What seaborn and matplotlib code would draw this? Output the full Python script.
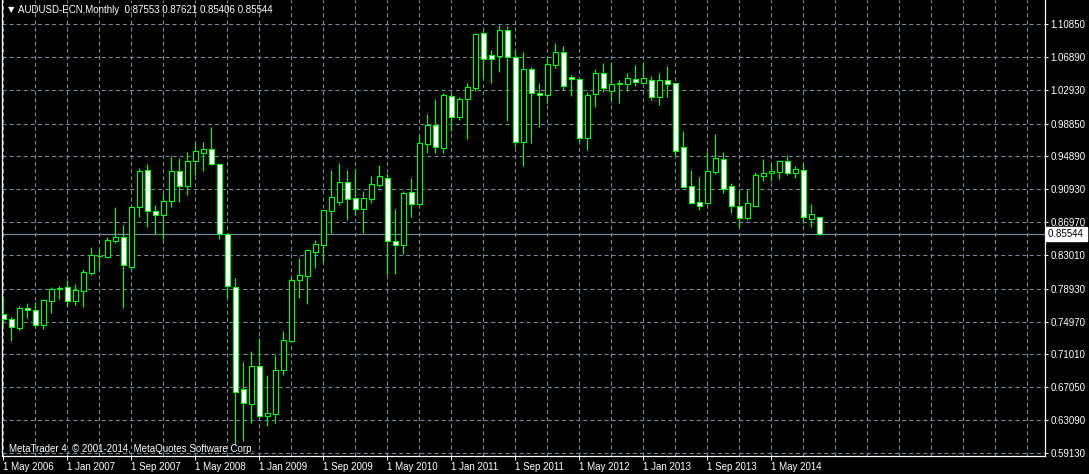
import numpy as np
import pandas as pd
import matplotlib.pyplot as plt
import matplotlib.ticker as mticker
import seaborn as sns

# monthly AUDUSD bars, May 2006 .. Nov 2014
opens = [0.75887, 0.75248, 0.74236, 0.76611, 0.76333, 0.74597, 0.77491, 0.78877, 0.79106, 0.77491,
         0.78696, 0.80866, 0.82844, 0.82795, 0.84724, 0.85134, 0.81590, 0.88751, 0.93212, 0.88341,
         0.87883, 0.89474, 0.93091, 0.91283, 0.94297, 0.95334, 0.95743, 0.93935, 0.85568, 0.79178,
         0.66809, 0.65073, 0.69582, 0.63554, 0.63867, 0.69100, 0.72668, 0.80022, 0.80505, 0.83398,
         0.84242, 0.88341, 0.89426, 0.91765, 0.89836, 0.88582, 0.89788, 0.91476, 0.92247, 0.84652,
         0.84170, 0.90559, 0.89185, 0.96419, 0.98637, 0.95936, 1.02133, 0.99674, 1.01771, 1.03170,
         1.09728, 1.07076, 1.07028, 1.10090, 1.06835, 0.96660, 1.05388, 1.02495, 1.02254, 1.05943,
         1.07438, 1.04424, 1.04183, 0.97142, 1.02447, 1.04906, 1.02808, 1.03616, 1.03652, 1.04183,
         1.03773, 1.04062, 1.02085, 1.04062, 1.03700, 0.95985, 0.91319, 0.89354, 0.89269, 0.93007,
         0.94574, 0.91319, 0.88908, 0.87425, 0.88944, 0.92561, 0.92850, 0.93043, 0.94297, 0.92922,
         0.93212, 0.87377, 0.87553]
highs = [0.77973, 0.75562, 0.76852, 0.77250, 0.77334, 0.77732, 0.79178, 0.79263, 0.79986, 0.79504,
         0.81312, 0.83929, 0.83760, 0.85170, 0.88787, 0.86617, 0.88908, 0.93489, 0.93935, 0.88992,
         0.90330, 0.94936, 0.94658, 0.95418, 0.96539, 0.96624, 0.98396, 0.94056, 0.85653, 0.80191,
         0.70100, 0.71426, 0.72958, 0.68533, 0.70944, 0.73838, 0.80384, 0.82639, 0.83687, 0.84809,
         0.88425, 0.93248, 0.94092, 0.93248, 0.93368, 0.90716, 0.92524, 0.93851, 0.92850, 0.88546,
         0.90716, 0.92283, 0.97467, 0.99999, 1.01808, 1.02531, 1.02531, 1.02049, 1.03700, 1.09728,
         1.10126, 1.07679, 1.10693, 1.10608, 1.07679, 1.07438, 1.05666, 1.03700, 1.06907, 1.08559,
         1.08161, 1.04665, 1.04250, 1.02688, 1.05424, 1.06148, 1.06268, 1.04062, 1.04942, 1.05907,
         1.06232, 1.04580, 1.04978, 1.05786, 1.03750, 0.97950, 0.93248, 0.92440, 0.95382, 0.97588,
         0.95382, 0.91644, 0.90873, 0.90800, 0.93007, 0.94574, 0.94056, 0.94453, 0.95056, 0.93730,
         0.93971, 0.89149, 0.87621]
lows = [0.74682, 0.72668, 0.73958, 0.75405, 0.74356, 0.74115, 0.76044, 0.77732, 0.76852, 0.77008,
        0.76767, 0.80625, 0.81349, 0.82639, 0.84483, 0.76611, 0.81349, 0.87545, 0.86412, 0.85472,
        0.84989, 0.88727, 0.89414, 0.90234, 0.92681, 0.93163, 0.93851, 0.84893, 0.77780, 0.60094,
        0.60612, 0.62782, 0.63433, 0.62421, 0.62782, 0.68533, 0.72475, 0.77852, 0.77057, 0.81469,
        0.82120, 0.85689, 0.89028, 0.87220, 0.87859, 0.85689, 0.89306, 0.91198, 0.80625, 0.80746,
        0.83121, 0.87618, 0.89028, 0.95334, 0.95334, 0.95334, 0.97950, 0.99312, 0.97021, 1.02808,
        1.04376, 1.03773, 1.05099, 0.99191, 0.96057, 0.93766, 0.96539, 0.98468, 1.01362, 1.05581,
        1.02893, 1.02205, 0.96587, 0.95659, 1.00843, 1.02688, 1.01566, 1.01362, 1.02808, 1.03411,
        1.03700, 1.01687, 1.01084, 1.02085, 0.95056, 0.91180, 0.89149, 0.88425, 0.89200, 0.92802,
        0.90511, 0.88100, 0.86412, 0.87220, 0.88823, 0.91958, 0.91958, 0.92163, 0.92645, 0.92283,
        0.86894, 0.86412, 0.85406]
closes = [0.75284, 0.74284, 0.76611, 0.76333, 0.74525, 0.77575, 0.78901, 0.78974, 0.77491, 0.78781,
          0.80915, 0.82964, 0.82916, 0.84772, 0.85134, 0.81831, 0.88751, 0.93091, 0.88305, 0.87786,
          0.89474, 0.93091, 0.91283, 0.94297, 0.95502, 0.95743, 0.93935, 0.85568, 0.79227, 0.66447,
          0.65121, 0.69582, 0.63554, 0.63916, 0.69100, 0.72716, 0.80022, 0.80553, 0.83567, 0.84290,
          0.88389, 0.89956, 0.91765, 0.89715, 0.88582, 0.89836, 0.91524, 0.92488, 0.84652, 0.84170,
          0.90439, 0.89185, 0.96467, 0.98637, 0.95985, 1.02254, 0.99674, 1.01771, 1.03218, 1.09608,
          1.06666, 1.06666, 1.10090, 1.06835, 0.96660, 1.05388, 1.02495, 1.02254, 1.05991, 1.07438,
          1.03411, 1.04183, 0.97142, 1.02254, 1.04906, 1.03170, 1.03580, 1.03688, 1.04303, 1.03821,
          1.04303, 1.02085, 1.04062, 1.03652, 0.95575, 0.91234, 0.89306, 0.88944, 0.93127, 0.94658,
          0.90993, 0.88944, 0.87425, 0.89233, 0.92645, 0.92850, 0.93127, 0.94297, 0.92922, 0.93332,
          0.87545, 0.87943, 0.85544]

price_ticks = [1.10850, 1.06890, 1.02930, 0.98850, 0.94890, 0.90930, 0.86970,
               0.83010, 0.78930, 0.74970, 0.71010, 0.67050, 0.63090, 0.59130]
date_labels = ["1 May 2006", "1 Jan 2007", "1 Sep 2007", "1 May 2008", "1 Jan 2009",
               "1 Sep 2009", "1 May 2010", "1 Jan 2011", "1 Sep 2011", "1 May 2012",
               "1 Jan 2013", "1 Sep 2013", "1 May 2014"]
last_price = 0.85544
header = "AUDUSD-ECN,Monthly  0.87553 0.87621 0.85406 0.85544"
copyright_txt = "MetaTrader 4, \u00a9 2001-2014, MetaQuotes Software Corp."

df = pd.DataFrame({"open": opens, "high": highs, "low": lows, "close": closes})
df["bar"] = np.arange(len(df))
df["bottom"] = df[["open", "close"]].min(axis=1)
df["body"] = (df["close"] - df["open"]).abs()
df["bull"] = df["close"] > df["open"]

GREEN = "#00ff00"
GRID = "#778899"

sns.set_theme(style="dark", rc={
    "figure.facecolor": "black",
    "axes.facecolor": "black",
    "axes.edgecolor": "white",
    "text.color": "white",
    "xtick.color": "white",
    "ytick.color": "white",
    "lines.scale_dashes": False,
})
plt.rcParams["font.family"] = ["Liberation Sans", "DejaVu Sans"]

fig = plt.figure(figsize=(10.89, 4.74), dpi=100)
ax = fig.add_axes([2 / 1089, 18 / 474, 1043 / 1089, 456 / 474])

# wicks
ax.vlines(df["bar"], df["low"], df["high"], color=GREEN, lw=0.8, zorder=3)
# bodies: bear = white, bull = black
ax.bar(df["bar"], df["body"], bottom=df["bottom"], width=0.55,
       color=np.where(df["bull"], "black", "white"),
       edgecolor=GREEN, linewidth=0.8, zorder=4)

ax.axhline(last_price, color=GRID, lw=0.9, zorder=2)

ax.set_xlim(-0.1625, 130.21)
ax.set_ylim(0.58768, 1.13743)

ax.yaxis.tick_right()
ax.set_yticks(price_ticks)
ax.set_yticklabels([f"{p:.5f}" for p in price_ticks])
ax.set_xticks(np.arange(len(date_labels)) * 8)
ax.set_xticklabels(date_labels, ha="left")
ax.xaxis.set_minor_locator(mticker.MultipleLocator(4))

ax.tick_params(axis="y", which="major", direction="out", length=2.5, width=0.7,
               pad=1.5, labelsize=7, right=True, left=False)
ax.tick_params(axis="x", which="major", direction="out", length=3, width=0.7,
               pad=1, labelsize=7, bottom=True)
ax.tick_params(axis="x", which="minor", length=0)

ax.grid(True, which="both", axis="x", color=GRID, lw=0.8, linestyle=(0, (2.9, 2.2)), zorder=1)
ax.grid(True, which="major", axis="y", color=GRID, lw=0.8, linestyle=(0, (2.9, 2.2)), zorder=1)

for side in ["left", "right", "bottom"]:
    ax.spines[side].set_color("white")
    ax.spines[side].set_linewidth(0.9)
ax.spines["top"].set_visible(False)

# current price tag on the price scale
ax.text(1.0025, last_price, f"{last_price:.5f} ", transform=ax.get_yaxis_transform(),
        ha="left", va="center", fontsize=7, color="black", zorder=10, clip_on=False,
        bbox=dict(boxstyle="square,pad=0.2", facecolor="white", edgecolor="white"))

fig.text(8 / 1089, 1 - 10 / 474, "\u25bc", fontsize=6, color="white", va="center",
         family=["DejaVu Sans"])
fig.text(18 / 1089, 1 - 10 / 474, header, fontsize=7, color="white", va="center")
ax.text(7 / 1043, 7 / 456, copyright_txt, transform=ax.transAxes, fontsize=7,
        color="white", va="center", zorder=6)

fig.savefig("out.png", dpi=100, facecolor="black")
